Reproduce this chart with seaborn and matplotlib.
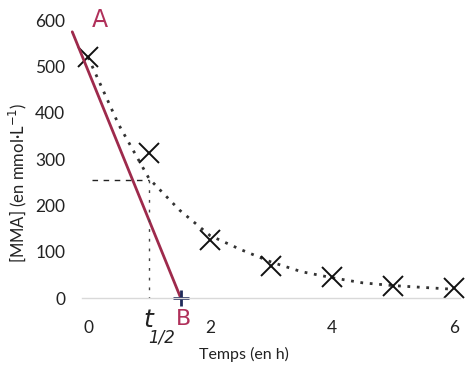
import pandas as pd
import numpy as np
import matplotlib.pyplot as plt
import seaborn as sns
import warnings
warnings.filterwarnings('ignore')

# measured points
temps = [0, 1, 2, 3, 4, 5, 6]
mma = [520, 313, 125, 69, 45, 26, 22]

# dotted trend curve
curve_t = [0, 0.5, 1, 1.5, 2, 2.5, 3, 3.5, 4, 4.5, 5, 5.5, 6]
curve_mma = [520, 375, 258, 190, 135, 105, 78, 57, 44, 33, 27, 23, 19]

# hand drawn tangent A -> B
tangent_t = [-0.26, 1.52]
tangent_mma = [575, 0]

# half-life construction
half_t = 1.0
half_mma = 255

sns.set_theme(style='white')
plt.rcParams['font.family'] = 'Lato'

fig = plt.figure(figsize=(4.66, 3.68), dpi=100)
ax = fig.add_axes([0.176, 0.19, 0.811, 0.755])

df = pd.DataFrame({'t': temps, 'mma': mma})
curve = pd.DataFrame({'t': curve_t, 'mma': curve_mma})

sns.lineplot(x='t', y='mma', data=curve, ax=ax, color='#333333', linestyle=(0, (1, 2.4)),
             linewidth=2, clip_on=False)
ax.plot(df['t'], df['mma'], linestyle='none', marker='x', markersize=14,
        markeredgewidth=1.4, color='#111111', clip_on=False)

# tangent + construction lines
ax.plot(tangent_t, tangent_mma, color='#9e2a4c', linewidth=2, clip_on=False)
ax.plot([0.07, half_t], [half_mma, half_mma], color='#222222', linestyle=(0, (4, 4)), linewidth=1)
ax.plot([half_t, half_t], [half_mma, 0], color='#444444', linestyle=(0, (2, 5)), linewidth=1)
ax.plot([tangent_t[1]], [0], marker='+', markersize=11, markeredgewidth=2, color='#1f2a5a', clip_on=False)

# handwriting
ax.text(0.2, 600, 'A', color='#b0305a', fontsize=17, family='DejaVu Sans', ha='center', va='center')
ax.text(1.57, -45, 'B', color='#b0305a', fontsize=16, family='DejaVu Sans', ha='center', va='center')
ax.text(0.98, -48, 't', color='#222222', fontsize=18, family='DejaVu Sans', fontstyle='italic', ha='center', va='center')
ax.text(1.2, -85, '1/2', color='#222222', fontsize=12, family='DejaVu Sans', fontstyle='italic', ha='center', va='center')

ax.set_xlim(-0.1, 6.1)
ax.set_ylim(0, 600)
ax.set_xticks([0, 2, 4, 6])
ax.set_yticks([0, 100, 200, 300, 400, 500, 600])
ax.set_xlabel('')
ax.set_ylabel('')
ax.tick_params(axis='x', labelsize=12.5, pad=16, length=0, colors='#222222')
ax.tick_params(axis='y', labelsize=12.5, pad=12, length=0, colors='#222222')
for s in ['top', 'right', 'left']:
    ax.spines[s].set_visible(False)
ax.spines['bottom'].set_color('#d9d9d9')
ax.spines['bottom'].set_linewidth(1)

fig.text(0.524, 0.038, 'Temps (en h)', fontsize=11.5, color='#222222', ha='center', va='center')
fig.text(0.039, 0.503, r'[MMA] (en mmol·L$^{-1}$)', fontsize=12, color='#222222',
         ha='center', va='center', rotation=90)

fig.savefig('out.png', dpi=100)
